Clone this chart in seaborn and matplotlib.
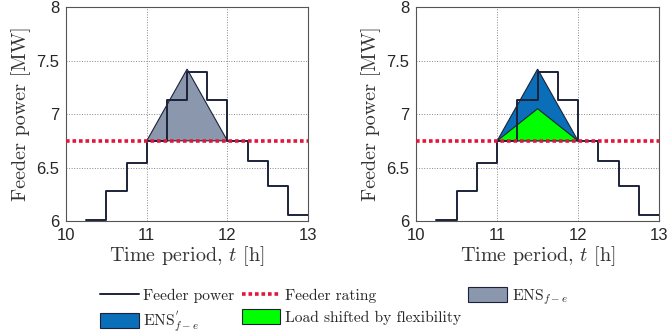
import numpy as np
import pandas as pd
import matplotlib
matplotlib.use('Agg')
import matplotlib.pyplot as plt
import seaborn as sns
from matplotlib.patches import Patch
from matplotlib.lines import Line2D

# feeder power, quarter-hour steps (value holds until next step)
t_steps = [10.25, 10.5, 10.75, 11.0, 11.25, 11.5, 11.75, 12.0, 12.25, 12.5, 12.75, 13.0]
p_steps = [6.01, 6.28, 6.54, 6.75, 7.13, 7.39, 7.13, 6.75, 6.56, 6.33, 6.06, 6.06]
rating = 6.75

# triangles (time, power)
ens_t = [11.0, 11.5, 12.0]
ens_p = [6.75, 7.42, 6.75]
shift_t = [11.0, 11.5, 12.0]
shift_p = [6.75, 7.05, 6.75]

x_ticks = [10, 11, 12, 13]
y_ticks = [6, 6.5, 7, 7.5, 8]
y_ticklabels = ['6', '6.5', '7', '7.5', '8']

sns.set_style('white')
plt.rcParams['mathtext.fontset'] = 'cm'
plt.rcParams['font.family'] = ['Liberation Sans', 'DejaVu Sans']
plt.rcParams['axes.unicode_minus'] = False

c_line = '#1c2238'
c_red = '#e3153a'
c_gray = '#8a97ad'
c_blue = '#0a6eb8'
c_green = '#00ff00'
serif = 'cmr10'

df = pd.DataFrame({'t': t_steps, 'p': p_steps})

fig = plt.figure(figsize=(6.67, 3.34), dpi=100)
ax1 = fig.add_axes([0.099, 0.338, 0.363, 0.641])
ax2 = fig.add_axes([0.624, 0.338, 0.364, 0.641])

for k, ax in enumerate([ax1, ax2]):
    if k == 0:
        ax.fill(ens_t, ens_p, facecolor=c_gray, edgecolor=c_line, linewidth=0.8, zorder=2)
    else:
        ax.fill(ens_t, ens_p, facecolor=c_blue, edgecolor=c_line, linewidth=0.8, zorder=2)
        ax.fill(shift_t, shift_p, facecolor=c_green, edgecolor=c_line, linewidth=0.8, zorder=2)
    sns.lineplot(data=df, x='t', y='p', ax=ax, drawstyle='steps-post', color=c_line,
                 linewidth=1.4, zorder=3)
    ax.axhline(rating, color=c_red, linestyle=(0, (1, 0.8)), linewidth=2.6, zorder=4)
    ax.set_xlim(10, 13)
    ax.set_ylim(6, 8)
    ax.set_xticks(x_ticks)
    ax.set_yticks(y_ticks)
    ax.set_yticklabels(y_ticklabels)
    ax.grid(True, linestyle=':', color='#888888', linewidth=0.7)
    ax.tick_params(labelsize=12, length=0, pad=5)
    for s in ax.spines.values():
        s.set_color('#555555')
        s.set_linewidth(0.8)
    ax.set_xlabel('Time period, $t$ [h]', fontsize=14.5, family=serif, color='#333333', labelpad=1)
    ax.set_ylabel('Feeder power [MW]', fontsize=14.5, family=serif, color='#333333', labelpad=4)

handles = [
    Line2D([], [], color=c_line, linewidth=1.4),
    Patch(facecolor=c_blue, edgecolor=c_line, linewidth=0.8),
    Line2D([], [], color=c_red, linestyle=(0, (1, 0.8)), linewidth=2.6),
    Patch(facecolor=c_green, edgecolor=c_line, linewidth=0.8),
    Patch(facecolor=c_gray, edgecolor=c_line, linewidth=0.8),
]
labels = [
    'Feeder power',
    r"ENS$_{f-e}^{'}$",
    'Feeder rating',
    'Load shifted by flexibility',
    r'ENS$_{f-e}$',
]
fig.legend(handles, labels, ncol=3, loc='upper left', bbox_to_anchor=(0.138, 0.163),
           frameon=False, prop={'family': serif, 'size': 11.2}, handlelength=2.5,
           handleheight=1.1, handletextpad=0.3, columnspacing=0.45, labelspacing=0.4,
           borderpad=0)

plt.savefig('out.png', dpi=100)
